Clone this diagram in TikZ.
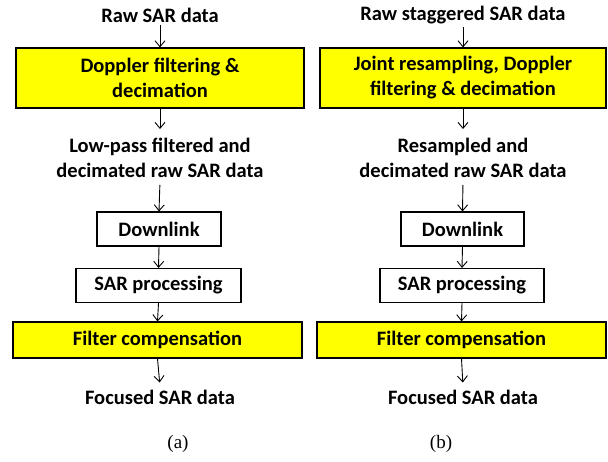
\documentclass[tikz,border=0pt]{standalone}
\usepackage{fontspec}
\setmainfont{Carlito}
\newfontfamily\capfont{Liberation Serif}
\usetikzlibrary{arrows.meta, positioning}
\definecolor{boxyellow}{RGB}{255,255,0}

\begin{document}
\begin{tikzpicture}[x=1pt, y=-1pt,
  every node/.style={font=\fontsize{20.5}{25}\selectfont\bfseries, align=center},
  datatext/.style={inner sep=3pt},
  yellowbox/.style={draw, line width=1.1pt, fill=boxyellow, minimum height=36pt},
  whitebox/.style={draw, line width=1.1pt, fill=white, minimum height=34pt},
  flow/.style={-{Straight Barb[length=6pt, width=10pt]}, line width=0.9pt},
  caption/.style={font=\capfont\fontsize{19}{22}\selectfont}
  ]

\useasboundingbox (0,0) rectangle (608,462);

% (a) conventional chain
\node[datatext] (rawA) at (160,15) {Raw SAR data};
\node[yellowbox, minimum width=288pt, minimum height=60pt] (dopA) at (160,78) {Doppler filtering \&\\ decimation};
\node[datatext] (lowA) at (160,158) {Low-pass filtered and\\ decimated raw SAR data};
\node[whitebox, minimum width=124pt] (downA) at (159,229) {Downlink};
\node[whitebox, minimum width=165pt] (procA) at (158.5,285.5) {SAR processing};
\node[yellowbox, minimum width=289pt] (compA) at (157.5,340) {Filter compensation};
\node[datatext] (focA) at (160,397) {Focused SAR data};
\node[caption] (capA) at (178,444) {(a)};

% (b) staggered chain
\node[datatext] (rawB) at (463,15) {Raw staggered SAR data};
\node[yellowbox, minimum width=286pt, minimum height=60pt] (dopB) at (463,78) {Joint resampling, Doppler\\ filtering \& decimation};
\node[datatext] (lowB) at (463,158) {Resampled and\\ decimated raw SAR data};
\node[whitebox, minimum width=123pt] (downB) at (462.5,229) {Downlink};
\node[whitebox, minimum width=164pt] (procB) at (462,285.5) {SAR processing};
\node[yellowbox, minimum width=289pt] (compB) at (461.5,340) {Filter compensation};
\node[datatext] (focB) at (463,397) {Focused SAR data};
\node[caption] (capB) at (441,444) {(b)};

% arrows
\foreach \c in {A,B} {
  \draw[flow] (raw\c.south) -- (dop\c.north);
  \draw[flow, shorten >=6pt] (dop\c.south) -- (low\c.north);
  \draw[flow, shorten <=4pt] (low\c.south) -- (down\c.north);
  \draw[flow] (down\c.south) -- (proc\c.north);
  \draw[flow] (proc\c.south) -- (comp\c.north);
  \draw[flow, shorten >=4pt] (comp\c.south) -- (foc\c.north);
}

\end{tikzpicture}
\end{document}
